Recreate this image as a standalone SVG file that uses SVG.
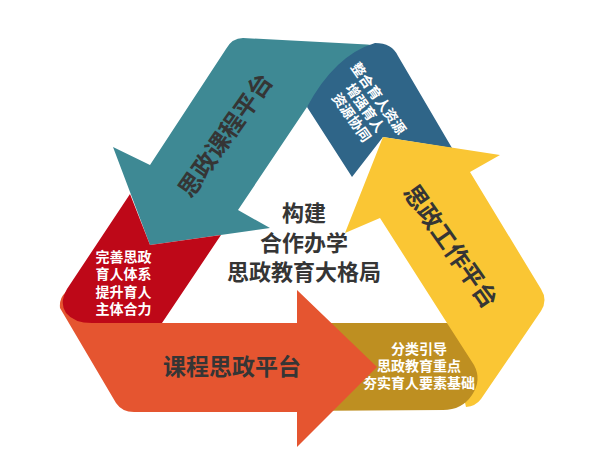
<svg xmlns="http://www.w3.org/2000/svg" width="602" height="463" viewBox="0 0 602 463">
<style>
text{font-family:"Noto Sans CJK SC","Liberation Sans",sans-serif;font-weight:bold;text-anchor:middle}
.dk{fill:#353535}
.wt{fill:#ffffff}
.big{font-size:24px}
.sm{font-size:14px}
.ctr{font-size:22px}
</style>
<rect width="602" height="463" fill="#ffffff"/>
<g id="node-teal">
<path d="M150 165 L113 147 L150 245 L270 228 L238 210 L307 107 L345 75 L380 46 L367 44.5 L243 38 Q232 38 226 49 Z" fill="#3e8994"/>
<text class="dk big" transform="translate(225,135) rotate(-55)" x="0" y="9">思政课程平台</text>
</g>
<g id="node-blue">
<path d="M307 107 Q335 55 375 43 Q392 43 398 56 L452 148 L383 137 L352 177 Z" fill="#2f6588"/>
<g transform="translate(365,108) rotate(55)">
<text class="wt sm" x="0" y="-11.5">整合育人资源</text>
<text class="wt sm" x="0" y="5">增强育人</text>
<text class="wt sm" x="0" y="21.5">资源协同</text>
</g>
</g>
<g id="node-yellow">
<path d="M345 233 L383 137 L500 155 L470 172 L541 289 Q548 300 541 311 L481 399 Q476 406 466 407 L447 323 L380 218 Z" fill="#fac634"/>
<text class="dk big" transform="translate(451,246) rotate(55)" x="0" y="9">思政工作平台</text>
</g>
<g id="node-gold">
<path d="M290 323 L447 323 L474 365 Q482 380 472 395 Q462 410 443 410 L290 411 Z" fill="#be8f21"/>
<text class="wt sm" x="419" y="354">分类引导</text>
<text class="wt sm" x="419" y="371">思政教育重点</text>
<text class="wt sm" x="419" y="388">夯实育人要素基础</text>
</g>
<g id="node-orange">
<path d="M297 323 L100 323 L66 292 Q59 298 60 308 L116 403 Q122 412 134 412 L297 412 L297 447 L377 367 L297 290 Z" fill="#e55530"/>
<text class="dk" x="232" y="375" style="font-size:23px">课程思政平台</text>
</g>
<g id="node-red">
<path d="M130 194 L67 289 Q59 303 66 313 Q74 323 92 323 L162 323 L221 235 L150 245 Z" fill="#be0818"/>
<text class="wt sm" x="123.5" y="262">完善思政</text>
<text class="wt sm" x="123.5" y="279">育人体系</text>
<text class="wt sm" x="123.5" y="296.5">提升育人</text>
<text class="wt sm" x="123.5" y="314">主体合力</text>
</g>
<g id="node-center">
<text class="dk ctr" x="304" y="221">构建</text>
<text class="dk ctr" x="304" y="251">合作办学</text>
<text class="dk ctr" x="304" y="280">思政教育大格局</text>
</g>
<g id="connectors"/>
</svg>
